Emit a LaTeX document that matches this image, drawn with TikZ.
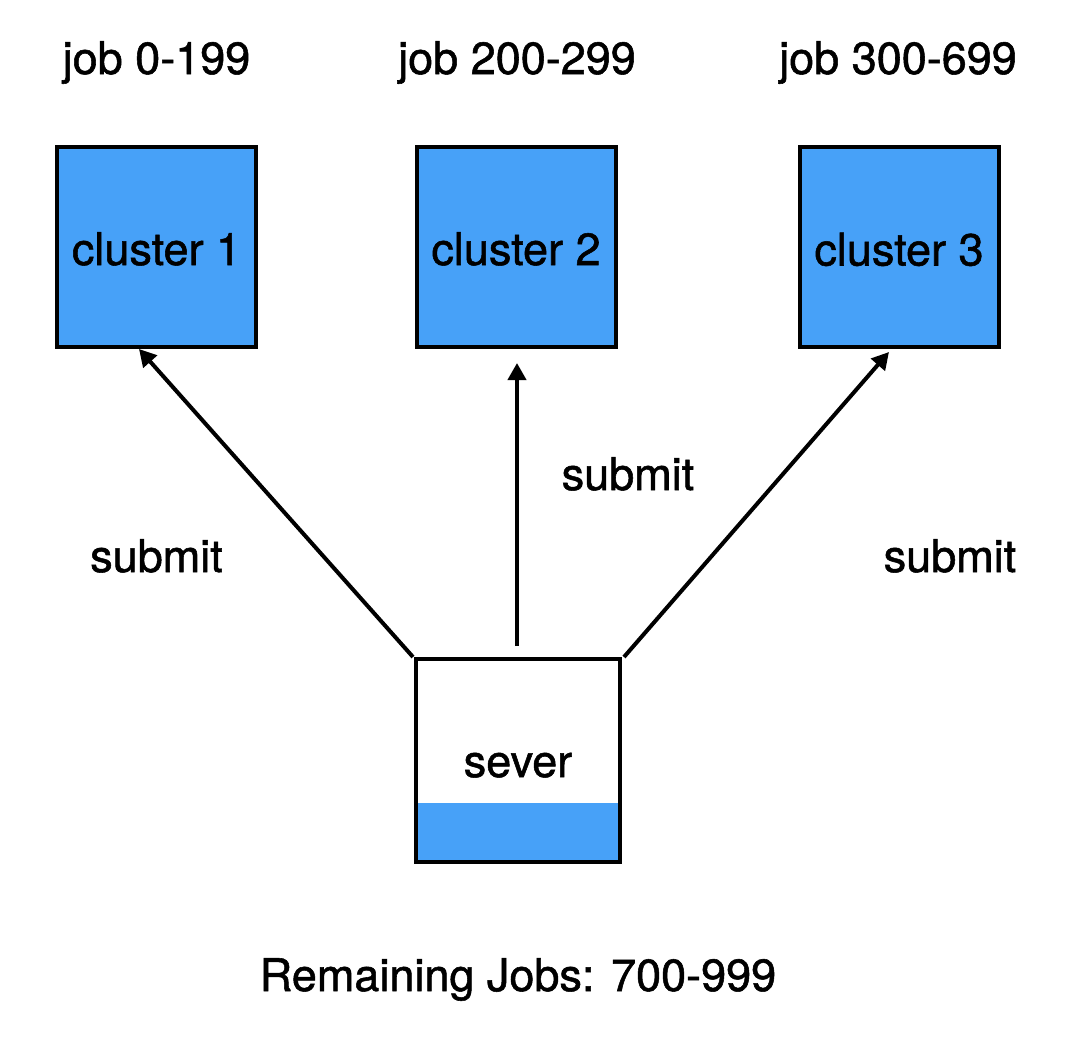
\documentclass[tikz,border=0pt]{standalone}
\usepackage{fontspec}
\setmainfont[FakeBold=1.2]{TeX Gyre Heros}
\usetikzlibrary{arrows.meta}
\definecolor{boxblue}{RGB}{71,161,248}
\begin{document}
\begin{tikzpicture}[x=1pt,y=-1pt,
  lbl/.style={font=\fontsize{45}{52}\selectfont, inner sep=0pt, anchor=base},
  clusterbox/.style={draw=black, line width=4pt, fill=boxblue, minimum width=199pt, minimum height=200pt, inner sep=0pt, text height=37pt, text depth=0pt, font=\fontsize{45}{52}\selectfont},
  serverbox/.style={line width=4pt, minimum width=200pt, minimum height=199pt, inner sep=0pt},
  arr/.style={line width=4pt, -{Triangle[length=17pt,width=18pt]}}]
\useasboundingbox[fill=white] (0,0) rectangle (1080,1060);

% clusters
\node[clusterbox] (c1) at (156.5,246.5) {cluster 1};
\node[clusterbox] (c2) at (516,246.5) {cluster 2};
\node[clusterbox] (c3) at (899,247) {cluster 3};

% job labels
\node[lbl] (j1) at (156.5,74) {job 0-199};
\node[lbl] (j2) at (517,74) {job 200-299};
\node[lbl] (j3) at (898,74) {job 300-699};

% server
\node[serverbox] (server) at (518,760.5) {};
\fill[boxblue] (server.south west) rectangle ([yshift=-42.5pt]server.east);
\draw[line width=4pt] (server.south west) rectangle (server.north east);
\node[lbl] (sever) at (518,777) {sever};

% arrows
\coordinate (s1) at (413,657);
\coordinate (s2) at (517,646);
\coordinate (s3) at (624,657);
\coordinate (t1) at (139,349);
\coordinate (t2) at (517,363);
\coordinate (t3) at (889,352);
\draw[arr] (s1) -- (t1);
\draw[arr] (s2) -- (t2);
\draw[arr] (s3) -- (t3);

% submit labels
\node[lbl] (sub1) at (156.5,572) {submit};
\node[lbl] (sub2) at (628,490) {submit};
\node[lbl] (sub3) at (950,572) {submit};

% remaining
\node[lbl] (rem) at (518,991) {Remaining Jobs: 700-999};
\end{tikzpicture}
\end{document}
